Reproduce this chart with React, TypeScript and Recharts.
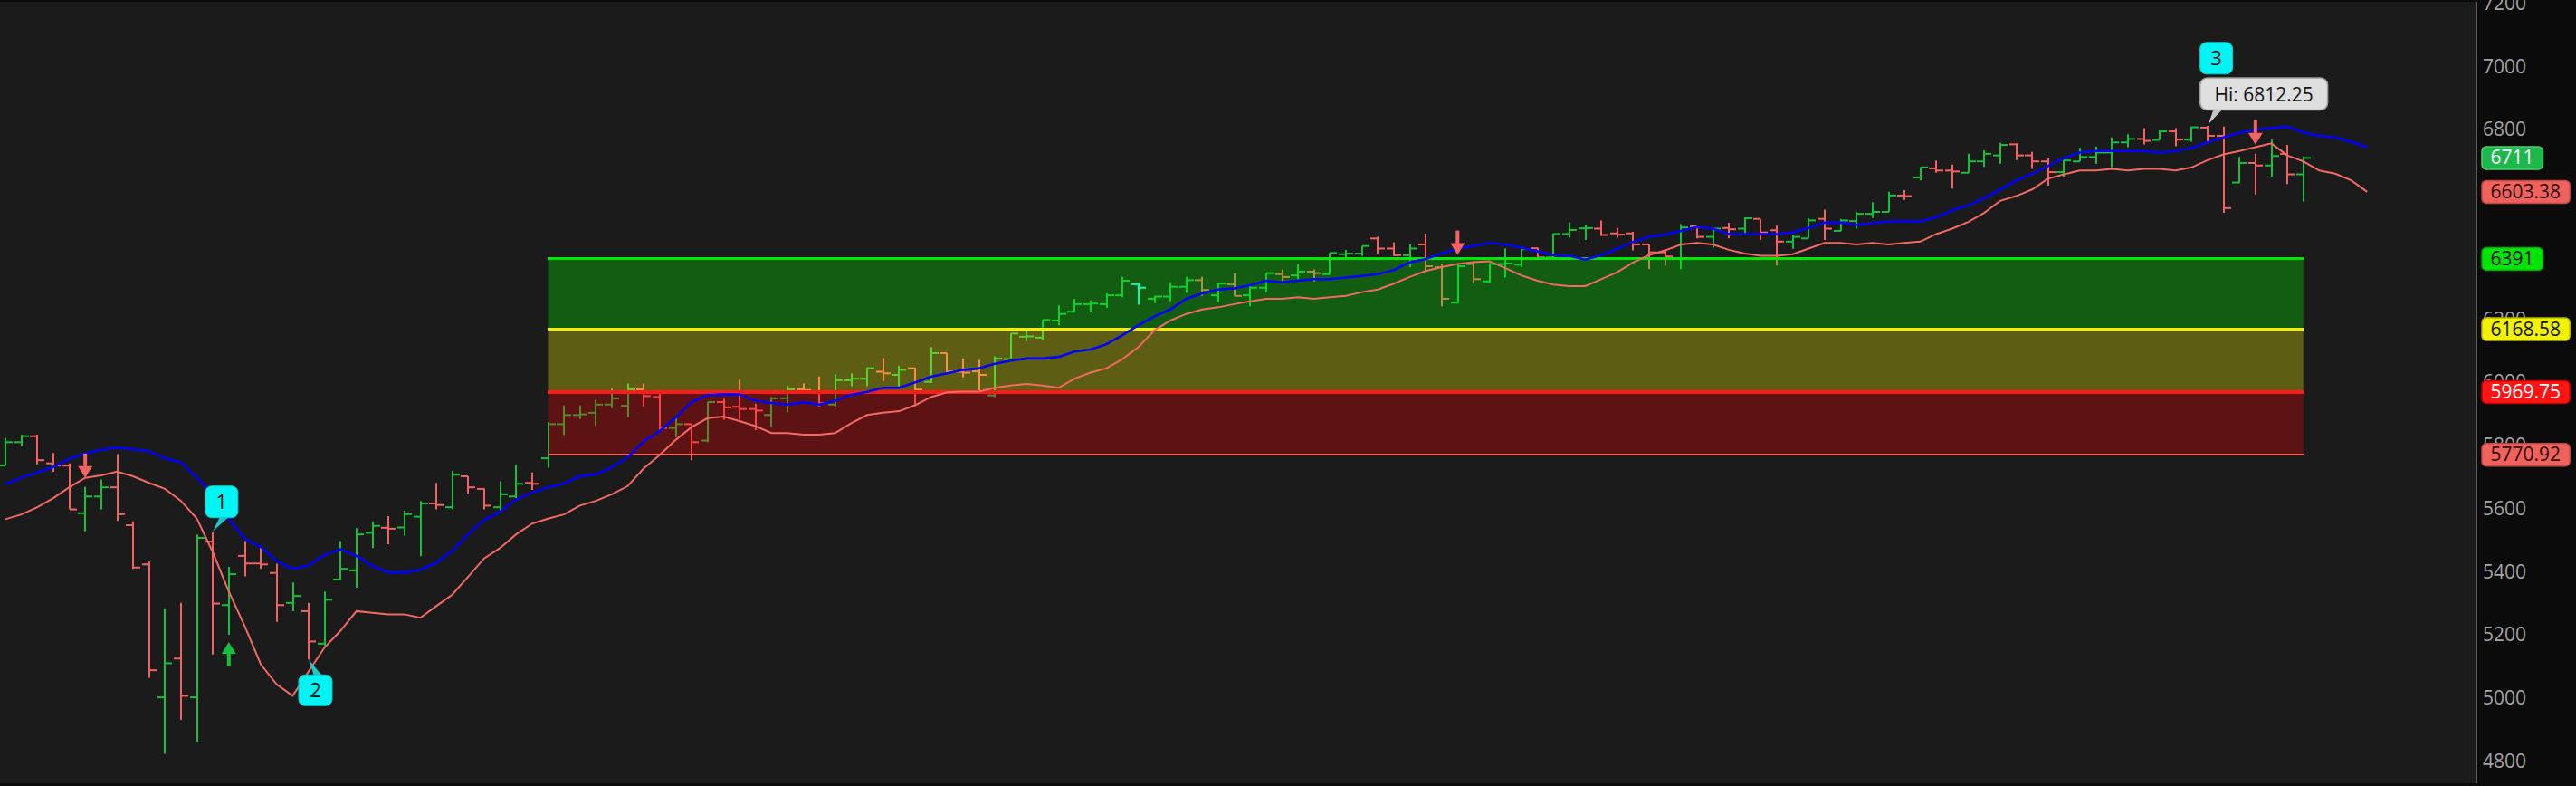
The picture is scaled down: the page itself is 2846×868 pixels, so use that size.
import React from 'react';
import {
  ComposedChart,
  Bar,
  Line,
  XAxis,
  YAxis,
  CartesianGrid,
  ReferenceArea,
  ReferenceLine,
  ReferenceDot,
} from 'recharts';

// daily OHLC
const opens = [
  5737, 5811, 5830, 5744, 5737, 5586, 5639, 5668, 5548, 5424,
  5003, 5126, 5003, 5496, 5295, 5451, 5427, 5397, 5302, 5276,
  5173, 5376, 5405, 5524, 5540, 5541, 5575, 5617, 5605, 5703,
  5663, 5605, 5639, 5682, 5760, 5868, 5897, 5904, 5930, 5926,
  5978, 5954, 5856, 5868, 5816, 5938, 5923, 5916, 5897, 5950,
  5978, 5972, 5930, 6007, 6012, 6034, 6024, 6045, 6002, 6093,
  6034, 6035, 5959, 6074, 6145, 6142, 6196, 6224, 6248, 6248,
  6276, 6311, 6265, 6272, 6303, 6324, 6276, 6311, 6276, 6300,
  6343, 6339, 6351, 6343, 6406, 6408, 6456, 6424, 6403, 6437,
  6365, 6253, 6375, 6320, 6375, 6373, 6425, 6396, 6470, 6488,
  6487, 6472, 6472, 6437, 6412, 6392, 6494, 6461, 6489, 6487,
  6518, 6482, 6446, 6456, 6518, 6480, 6511, 6534, 6540, 6592,
  6649, 6678, 6671, 6664, 6700, 6719, 6754, 6719, 6700, 6666,
  6700, 6714, 6728, 6760, 6771, 6768, 6795, 6769, 6807, 6781,
  6633, 6695, 6687, 6724, 6659,
];
const highs = [
  5825, 5835, 5835, 5777, 5744, 5669, 5693, 5773, 5560, 5433,
  5285, 5302, 5519, 5526, 5416, 5498, 5479, 5426, 5367, 5302,
  5338, 5498, 5539, 5560, 5577, 5594, 5625, 5682, 5720, 5703,
  5665, 5687, 5739, 5715, 5875, 5927, 5927, 5945, 5980, 5997,
  5997, 5970, 5892, 5870, 5938, 5949, 6009, 5932, 5954, 5990,
  5997, 6019, 6026, 6029, 6048, 6077, 6053, 6047, 6112, 6093,
  6076, 6071, 6083, 6155, 6165, 6198, 6244, 6265, 6260, 6282,
  6334, 6315, 6274, 6317, 6334, 6334, 6315, 6346, 6305, 6346,
  6357, 6375, 6358, 6410, 6420, 6432, 6461, 6443, 6437, 6472,
  6375, 6375, 6381, 6379, 6425, 6425, 6427, 6472, 6507, 6499,
  6513, 6489, 6477, 6437, 6421, 6501, 6494, 6489, 6506, 6523,
  6518, 6496, 6466, 6520, 6547, 6518, 6540, 6571, 6604, 6609,
  6682, 6703, 6690, 6724, 6735, 6759, 6757, 6730, 6709, 6704,
  6743, 6747, 6776, 6786, 6805, 6798, 6805, 6810, 6812.25, 6810,
  6714, 6724, 6769, 6752, 6716,
];
const lows = [
  5737, 5798, 5741, 5717, 5598, 5529, 5598, 5562, 5410, 5065,
  4824, 4932, 4863, 5139, 5201, 5386, 5410, 5242, 5276, 5123,
  5166, 5376, 5350, 5476, 5488, 5515, 5450, 5598, 5598, 5648,
  5598, 5591, 5634, 5660, 5730, 5833, 5884, 5862, 5919, 5890,
  5923, 5844, 5827, 5754, 5811, 5882, 5883, 5849, 5859, 5906,
  5969, 5924, 5924, 5988, 5988, 6005, 5988, 5926, 5999, 6030,
  6016, 5973, 5954, 6074, 6131, 6136, 6181, 6222, 6222, 6236,
  6270, 6246, 6251, 6257, 6284, 6274, 6255, 6274, 6241, 6286,
  6320, 6327, 6320, 6343, 6389, 6400, 6406, 6400, 6365, 6351,
  6241, 6251, 6314, 6314, 6332, 6365, 6391, 6391, 6458, 6451,
  6464, 6458, 6418, 6359, 6370, 6359, 6456, 6427, 6456, 6467,
  6451, 6370, 6423, 6456, 6451, 6480, 6487, 6521, 6540, 6578,
  6640, 6664, 6614, 6664, 6683, 6693, 6704, 6676, 6623, 6652,
  6700, 6692, 6681, 6745, 6754, 6768, 6748, 6762, 6762, 6537,
  6631, 6595, 6652, 6628, 6573,
];
const closes = [
  5811, 5830, 5754, 5737, 5598, 5639, 5668, 5583, 5414, 5089,
  5111, 5008, 5508, 5300, 5393, 5427, 5424, 5295, 5324, 5180,
  5312, 5410, 5519, 5546, 5537, 5583, 5617, 5612, 5708, 5668,
  5610, 5646, 5679, 5679, 5868, 5897, 5899, 5930, 5949, 5978,
  5957, 5856, 5868, 5811, 5938, 5921, 5916, 5911, 5950, 5978,
  5976, 5935, 6007, 6012, 6045, 6029, 6040, 5978, 6093, 6035,
  6031, 6024, 6076, 6155, 6146, 6198, 6217, 6248, 6250, 6276,
  6322, 6300, 6272, 6303, 6324, 6293, 6313, 6274, 6300, 6346,
  6334, 6351, 6346, 6410, 6408, 6432, 6424, 6403, 6424, 6368,
  6265, 6368, 6327, 6375, 6377, 6422, 6396, 6470, 6483, 6489,
  6467, 6468, 6437, 6412, 6399, 6491, 6461, 6487, 6485, 6520,
  6475, 6446, 6461, 6513, 6487, 6513, 6534, 6540, 6592, 6590,
  6681, 6671, 6668, 6700, 6724, 6752, 6719, 6700, 6666, 6703,
  6714, 6728, 6760, 6771, 6765, 6795, 6769, 6808, 6781, 6552,
  6695, 6687, 6717, 6659, 6711,
];

// moving averages, shifted 4 bars past the last candle
const blueLine = [
  5677, 5699, 5715, 5732, 5758, 5775, 5787, 5794, 5789, 5782,
  5760, 5747, 5699, 5648, 5567, 5505, 5479, 5435, 5410, 5421,
  5454, 5472, 5451, 5419, 5398, 5398, 5407, 5429, 5467, 5519,
  5565, 5591, 5629, 5651, 5668, 5680, 5703, 5709, 5732, 5763,
  5814, 5846, 5889, 5938, 5960, 5962, 5962, 5942, 5935, 5930,
  5937, 5930, 5942, 5961, 5970, 5983, 5983, 6000, 6018, 6029,
  6040, 6045, 6059, 6069, 6076, 6076, 6081, 6098, 6104, 6121,
  6150, 6181, 6209, 6231, 6265, 6282, 6294, 6298, 6308, 6322,
  6317, 6322, 6327, 6327, 6332, 6337, 6343, 6356, 6380, 6391,
  6408, 6423, 6432, 6442, 6437, 6427, 6415, 6403, 6401, 6389,
  6403, 6423, 6445, 6461, 6468, 6480, 6492, 6487, 6470, 6470,
  6470, 6470, 6475, 6489, 6506, 6506, 6499, 6504, 6510, 6510,
  6510, 6523, 6545, 6561, 6583, 6611, 6639, 6661, 6685, 6711,
  6728, 6733, 6733, 6733, 6733, 6728, 6733, 6743, 6760, 6776,
  6790, 6800, 6805, 6810, 6791, 6781, 6776, 6762, 6745,
];
const salmonLine = [
  5567, 5582, 5605, 5634, 5668, 5698, 5706, 5718, 5703, 5682,
  5663, 5625, 5569, 5462, 5338, 5228, 5108, 5044, 5008, 5085,
  5161, 5214, 5276, 5271, 5266, 5266, 5255, 5292, 5328, 5385,
  5443, 5476, 5519, 5553, 5569, 5582, 5610, 5625, 5646, 5672,
  5728, 5770, 5818, 5859, 5887, 5892, 5878, 5862, 5840, 5840,
  5835, 5835, 5840, 5871, 5897, 5904, 5909, 5928, 5954, 5969,
  5971, 5971, 5983, 5990, 5995, 5990, 5983, 6012, 6031, 6045,
  6074, 6112, 6165, 6196, 6217, 6231, 6238, 6248, 6257, 6265,
  6265, 6270, 6265, 6270, 6274, 6286, 6294, 6313, 6334, 6353,
  6365, 6375, 6381, 6384, 6362, 6339, 6322, 6310, 6305, 6305,
  6327, 6349, 6380, 6403, 6418, 6437, 6442, 6437, 6420, 6408,
  6401, 6401, 6406, 6424, 6442, 6442, 6437, 6442, 6437, 6442,
  6446, 6470, 6487, 6508, 6537, 6575, 6590, 6611, 6645, 6659,
  6671, 6671, 6676, 6671, 6676, 6676, 6671, 6681, 6704, 6722,
  6733, 6745, 6757, 6719, 6700, 6671, 6661, 6640, 6603.38,
];

const priceTicks = [4800, 5000, 5200, 5400, 5600, 5800, 6000, 6200, 6400, 6600, 6800, 7000, 7200];

// zone levels and the bars they span
const zoneTop = 6391;
const zoneMid = 6168.58;
const zoneLow = 5969.75;
const zoneBottom = 5770.92;
const zoneFrom = 34;
const zoneTo = 144;

const sellSignals = [5, 91, 141];
const buySignals = [14];
const selectedBar = 71;
const callouts = [
  { bar: 13, text: '1', below: false, note: '' },
  { bar: 19, text: '2', below: true, note: '' },
  { bar: 138, text: '3', below: false, note: 'Hi: 6812.25' },
];

const UP = '#14c03e';
const DOWN = '#f46262';
const FONT = "'Open Sans', 'Noto Sans', sans-serif";

const lastClose = closes[closes.length - 1];
const lastSalmon = salmonLine[salmonLine.length - 1];

const badges: Record<string, { fill: string; stroke: string; color: string }> = {
  [String(zoneBottom)]: { fill: '#f2625c', stroke: '#c04a45', color: '#2a0a0a' },
  [String(zoneLow)]: { fill: '#ff1414', stroke: '#c00000', color: '#ffffff' },
  [String(zoneMid)]: { fill: '#f2f200', stroke: '#b8b800', color: '#111111' },
  [String(zoneTop)]: { fill: '#00e400', stroke: '#00a800', color: '#0a0a0a' },
  [String(lastSalmon)]: { fill: '#f2625c', stroke: '#c04a45', color: '#2a0a0a' },
  [String(lastClose)]: { fill: '#1db84c', stroke: '#4bd070', color: '#ffffff' },
};

const rows = salmonLine.map((s, i) => ({
  i,
  hl: i < opens.length ? [lows[i], highs[i]] : null,
  o: opens[i],
  h: highs[i],
  l: lows[i],
  c: closes[i],
  blue: blueLine[i],
  salmon: s,
}));

function OhlcBar(props: any) {
  const { x, y, width, height, payload } = props;
  if (!payload || !payload.hl) return null;
  const top = Math.min(y, y + height);
  const bottom = Math.max(y, y + height);
  const span = payload.h - payload.l || 1;
  const yOf = (v: number) => top + ((payload.h - v) / span) * (bottom - top);
  const cx = Math.round(x + width / 2);
  const color = payload.i === selectedBar ? '#00ffff' : payload.c >= payload.o ? UP : DOWN;
  const yo = yOf(payload.o);
  const yc = yOf(payload.c);
  return (
    <g stroke={color} strokeWidth={2}>
      <line x1={cx} x2={cx} y1={top} y2={bottom} />
      <line x1={cx - 8} x2={cx} y1={yo} y2={yo} />
      <line x1={cx} x2={cx + 8} y1={yc} y2={yc} />
    </g>
  );
}

function AxisTick(props: any) {
  const { x, y, payload } = props;
  const b = badges[String(payload.value)];
  const label = String(payload.value);
  if (!b) {
    return (
      <text x={x} y={y} dy={7} fill="#a4a4a4" fontSize={21} fontFamily={FONT}>
        {label}
      </text>
    );
  }
  const w = label.replace('.', '').length * 12.1 + (label.includes('.') ? 5.6 : 0) + 19;
  return (
    <g>
      <rect x={x - 1} y={y - 12.5} width={w} height={25} rx={5} fill={b.fill} stroke={b.stroke} strokeWidth={1.5} />
      <text x={x + 8.5} y={y} dy={7} fill={b.color} fontSize={21} fontFamily={FONT}>
        {label}
      </text>
    </g>
  );
}

function SellArrow({ cx, cy }: any) {
  const tip = cy - 10;
  return (
    <g fill={DOWN}>
      <rect x={cx - 2} y={tip - 27} width={4} height={15} />
      <polygon points={`${cx - 8},${tip - 13} ${cx + 8},${tip - 13} ${cx},${tip}`} />
    </g>
  );
}

function BuyArrow({ cx, cy }: any) {
  const tip = cy + 8;
  return (
    <g fill={UP}>
      <rect x={cx - 2} y={tip + 12} width={4} height={15} />
      <polygon points={`${cx - 8},${tip + 13} ${cx + 8},${tip + 13} ${cx},${tip}`} />
    </g>
  );
}

function Callout({ cx, cy, text, below, note }: any) {
  if (below) {
    const bx = cx - 11;
    const by = cy + 17;
    return (
      <g>
        <polygon points={`${cx},${cy} ${bx + 17},${by + 1} ${bx + 26},${by + 1}`} fill="#1fc6c6" />
        <rect x={bx} y={by} width={37} height={34} rx={7} fill="#00f4f4" stroke="#16c8c8" strokeWidth={1} />
        <text x={bx + 18.5} y={by + 17} dy={8} textAnchor="middle" fontSize={22} fontFamily={FONT} fill="#111">
          {text}
        </text>
      </g>
    );
  }
  const bx = cx - 8.3;
  if (note) {
    const nb = cy - 17.5;
    const nt = nb - 35.5;
    const tb = nt - 4.3;
    return (
      <g>
        <polygon points={`${cx + 1},${cy - 2} ${bx + 15},${nb - 1} ${bx + 25},${nb - 1}`} fill="#c8c8c8" />
        <rect x={bx} y={nt} width={141} height={35.5} rx={8} fill="#dfdfdf" stroke="#9c9c9c" strokeWidth={1.5} />
        <text x={bx + 70.5} y={nt + 18} dy={7.5} textAnchor="middle" fontSize={21} fontFamily={FONT} fill="#161616">
          {note}
        </text>
        <rect x={bx} y={tb - 35} width={36} height={35} rx={7} fill="#00f4f4" stroke="#16c8c8" strokeWidth={1} />
        <text x={bx + 18} y={tb - 17.5} dy={8} textAnchor="middle" fontSize={22} fontFamily={FONT} fill="#111">
          {text}
        </text>
      </g>
    );
  }
  const bb = cy - 16;
  return (
    <g>
      <polygon points={`${cx},${cy - 1} ${bx + 16},${bb - 1} ${bx + 26},${bb - 1}`} fill="#1fc6c6" />
      <rect x={bx} y={bb - 35} width={36} height={35} rx={7} fill="#00f4f4" stroke="#16c8c8" strokeWidth={1} />
      <text x={bx + 18} y={bb - 17.5} dy={8} textAnchor="middle" fontSize={22} fontFamily={FONT} fill="#111">
        {text}
      </text>
    </g>
  );
}

export default function App() {
  const axisTicks = [...priceTicks, zoneBottom, zoneLow, zoneMid, zoneTop, lastSalmon, lastClose];
  return (
    <div style={{ position: 'absolute', left: 0, top: 0, width: 2846, height: 868, background: '#0b0b0b' }}>
      <ComposedChart width={2846} height={868} data={rows} margin={{ top: 2, right: 0, bottom: 3, left: 0 }}>
        <CartesianGrid fill="#1b1b1b" horizontal={false} vertical={false} />
        <XAxis
          dataKey="i"
          type="number"
          domain={[-0.34, 154.85]}
          allowDataOverflow
          tick={false}
          tickLine={false}
          height={0}
          axisLine={{ stroke: '#5c5c5c', strokeWidth: 2 }}
        />
        <XAxis
          xAxisId="top"
          orientation="top"
          dataKey="i"
          type="number"
          domain={[-0.34, 154.85]}
          allowDataOverflow
          tick={false}
          tickLine={false}
          height={0}
          axisLine={{ stroke: '#5c5c5c', strokeWidth: 2 }}
        />
        <YAxis
          orientation="right"
          width={110}
          type="number"
          domain={[4731, 7205.2]}
          allowDataOverflow
          ticks={axisTicks}
          interval={0}
          tick={<AxisTick />}
          tickLine={false}
          tickSize={6}
          tickMargin={1}
          axisLine={{ stroke: '#5c5c5c', strokeWidth: 2 }}
        />
        <Bar dataKey="hl" barSize={14} shape={<OhlcBar />} isAnimationActive={false} />
        <ReferenceArea x1={zoneFrom} x2={zoneTo} y1={zoneMid} y2={zoneTop} fill="#00ff00" fillOpacity={0.29} stroke="none" zIndex={350} />
        <ReferenceArea x1={zoneFrom} x2={zoneTo} y1={zoneLow} y2={zoneMid} fill="#ffff00" fillOpacity={0.29} stroke="none" zIndex={350} />
        <ReferenceArea x1={zoneFrom} x2={zoneTo} y1={zoneBottom} y2={zoneLow} fill="#ff0000" fillOpacity={0.29} stroke="none" zIndex={350} />
        <ReferenceLine segment={[{ x: zoneFrom, y: zoneTop }, { x: zoneTo, y: zoneTop }]} stroke="#00e600" strokeWidth={3} shapeRendering="crispEdges" zIndex={360} />
        <ReferenceLine segment={[{ x: zoneFrom, y: zoneMid }, { x: zoneTo, y: zoneMid }]} stroke="#f0f000" strokeWidth={3} shapeRendering="crispEdges" zIndex={360} />
        <ReferenceLine segment={[{ x: zoneFrom, y: zoneLow }, { x: zoneTo, y: zoneLow }]} stroke="#ff1a1a" strokeWidth={3.5} shapeRendering="crispEdges" zIndex={360} />
        <ReferenceLine segment={[{ x: zoneFrom, y: zoneBottom }, { x: zoneTo, y: zoneBottom }]} stroke="#f2625c" strokeWidth={2} shapeRendering="crispEdges" zIndex={360} />
        <Line dataKey="salmon" stroke="#f26a62" strokeWidth={2} dot={false} isAnimationActive={false} />
        <Line dataKey="blue" stroke="#0000ff" strokeWidth={2.6} dot={false} isAnimationActive={false} />
        {sellSignals.map((b) => (
          <ReferenceDot key={`s${b}`} x={b} y={highs[b]} ifOverflow="visible" shape={(p: any) => <SellArrow cx={p.cx} cy={p.cy} />} />
        ))}
        {buySignals.map((b) => (
          <ReferenceDot key={`b${b}`} x={b} y={lows[b]} ifOverflow="visible" shape={(p: any) => <BuyArrow cx={p.cx} cy={p.cy} />} />
        ))}
        {callouts.map((c) => (
          <ReferenceDot
            key={`c${c.bar}`}
            x={c.bar}
            y={c.below ? lows[c.bar] : highs[c.bar]}
            ifOverflow="visible"
            shape={(p: any) => <Callout cx={p.cx} cy={p.cy} text={c.text} below={c.below} note={c.note} />}
          />
        ))}
      </ComposedChart>
    </div>
  );
}
